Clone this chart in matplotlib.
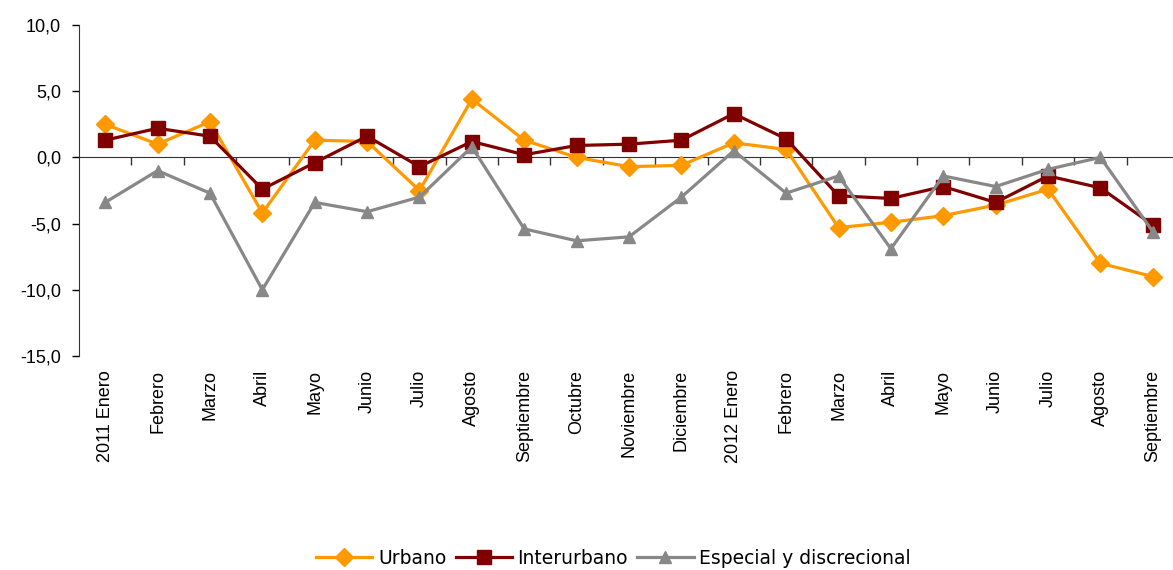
import matplotlib.pyplot as plt

plt.rcParams['font.family'] = ['Liberation Sans', 'DejaVu Sans']

meses = ['2011 Enero', 'Febrero', 'Marzo', 'Abril', 'Mayo', 'Junio', 'Julio',
         'Agosto', 'Septiembre', 'Octubre', 'Noviembre', 'Diciembre',
         '2012 Enero', 'Febrero', 'Marzo', 'Abril', 'Mayo', 'Junio', 'Julio',
         'Agosto', 'Septiembre']

urbano = [2.5, 1.0, 2.7, -4.2, 1.3, 1.2, -2.5, 4.4, 1.3, 0.0, -0.7, -0.6,
          1.1, 0.6, -5.3, -4.9, -4.4, -3.6, -2.4, -8.0, -9.0]
interurbano = [1.3, 2.2, 1.6, -2.4, -0.4, 1.6, -0.7, 1.2, 0.2, 0.9, 1.0, 1.3,
               3.3, 1.4, -2.9, -3.1, -2.2, -3.4, -1.4, -2.3, -5.1]
especial = [-3.4, -1.0, -2.7, -10.0, -3.4, -4.1, -3.0, 0.8, -5.4, -6.3, -6.0, -3.0,
            0.5, -2.7, -1.4, -6.9, -1.4, -2.2, -0.9, 0.0, -5.6]

yticks = [-15, -10, -5, 0, 5, 10]
ylabels = ['-15,0', '-10,0', '-5,0', '0,0', '5,0', '10,0']

fig = plt.figure(figsize=(11.73, 5.70), dpi=100)
ax = fig.add_axes([79 / 1173, 1 - 356 / 570, 1100 / 1173, 331 / 570])

x = list(range(len(meses)))
ax.plot(x, urbano, color='#FF9900', lw=2.3, marker='D', ms=9.5, label='Urbano', zorder=3)
ax.plot(x, interurbano, color='#800000', lw=2.3, marker='s', ms=10, label='Interurbano', zorder=4)
ax.plot(x, especial, color='#888888', lw=2.3, marker='^', ms=9, label='Especial y discrecional', zorder=5)

ax.set_xlim(-0.5, len(meses) - 0.5)
ax.set_ylim(-15, 10)
ax.set_yticks(yticks)
ax.set_yticklabels(ylabels, fontsize=13)
ax.tick_params(axis='y', length=5, width=1, pad=8)

ax.set_xticks(x)
ax.set_xticklabels(meses, rotation=90, fontsize=13, va='top')
ax.tick_params(axis='x', length=0, pad=10)

for s in ['top', 'right', 'bottom']:
    ax.spines[s].set_visible(False)
ax.spines['left'].set_color('#333333')

# zero line with separator ticks
sec = ax.secondary_xaxis(15 / 25)
sec.set_xticks([i + 0.5 for i in x[:-1]])
sec.xaxis.set_ticks_position('bottom')
sec.tick_params(axis='x', length=6, width=1, labelbottom=False, labeltop=False,
                direction='out', color='#333333')
sec.spines['bottom'].set_color('#333333')
sec.spines['top'].set_color('#333333')

fig.legend(loc='lower center', bbox_to_anchor=(0.523, -0.026), ncol=3, frameon=False,
           prop={'family': 'DejaVu Sans', 'size': 13.5}, handlelength=3.0,
           columnspacing=0.5, handletextpad=0.3)

fig.savefig('out.png', dpi=100)
